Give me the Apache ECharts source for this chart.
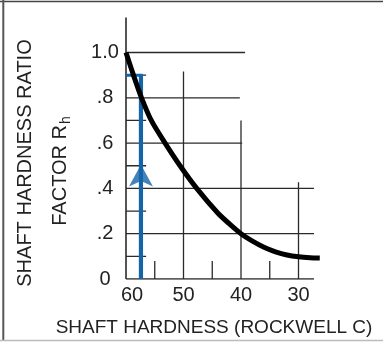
<!DOCTYPE html>
<html><head><meta charset="utf-8">
<script src="https://cdn.jsdelivr.net/npm/echarts@6/dist/echarts.min.js"></script>
<style>html,body{margin:0;padding:0;background:#fff}#c{width:383px;height:347px}</style>
</head><body><div id="c"></div>
<script>
// Curve: shaft hardness (Rockwell C) vs hardness ratio factor Rh
const hardness = [60, 58.7, 57.3, 55.6, 53.2, 50.6, 47.7, 44, 42, 40, 38, 36, 34, 32, 30, 28, 26.3];
const ratio    = [1.0, 0.9, 0.8, 0.7, 0.6, 0.5, 0.4, 0.29, 0.243, 0.2, 0.167, 0.14, 0.12, 0.106, 0.098, 0.094, 0.093];
const xTicks = [60, 50, 40, 30];
const yTicks = [0, 0.2, 0.4, 0.6, 0.8, 1.0];
const yTickLabels = ['0', '.2', '.4', '.6', '.8', '1.0'];
// Example reading (blue)
const exampleHardness = 57.4;
const exampleRatio = 0.9;
const exampleLeaderEnd = 57.1;
const arrowRatio = 0.505;
// Grid segments: horizontal [ratio, hardness end], vertical [hardness, ratio top]
const hGrid = [[1.0, 39.3], [0.8, 40.2], [0.6, 39.8], [0.4, 27.3], [0.2, 27.3], [0, 27.3]];
const vGrid = [[60, 1.154], [50, 0.916], [40, 0.70], [30, 0.427]];
const minorY = [0.1, 0.3, 0.5, 0.7, 0.9];
const minorYEnd = 56.5;
const minorX = [55, 45, 35];
const minorXTop = 0.08;

const FONT = '"Liberation Sans", Arial, sans-serif';
const INK = '#222';
const BLUE = '#1464aa';

const series = [];
function seg(data, color, width, z) {
  series.push({type: 'line', data: data, symbol: 'none', silent: true, animation: false,
    lineStyle: {color: color, width: width, cap: 'butt'}, z: z || 2});
}
hGrid.forEach(g => seg([[60, g[0]], [g[1], g[0]]], '#2a2a2a', 1.3));
vGrid.forEach(g => seg([[g[0], 0], [g[0], g[1]]], '#2a2a2a', g[0] === 60 ? 1.6 : 1.3));
minorY.forEach(v => seg([[60, v], [minorYEnd, v]], '#2a2a2a', 1.3));
minorX.forEach(v => seg([[v, 0], [v, minorXTop]], '#2a2a2a', 1.3));
// blue example
seg([[exampleHardness, 0], [exampleHardness, exampleRatio]], BLUE, 4.2, 3);
seg([[60, exampleRatio], [exampleLeaderEnd, exampleRatio]], BLUE, 3, 3);
series.push({type: 'scatter', data: [[exampleHardness, arrowRatio]], symbol: 'arrow',
  symbolSize: [18, 22], itemStyle: {color: BLUE}, silent: true, animation: false, z: 3});
// main curve
series.push({type: 'line', data: hardness.map((h, i) => [h, ratio[i]]), smooth: 0.3,
  symbol: 'none', silent: true, animation: false,
  lineStyle: {color: '#000', width: 5, cap: 'butt'}, z: 5});

const chart = echarts.init(document.getElementById('c'), null, {renderer: 'canvas'});
chart.setOption({
  backgroundColor: '#fff',
  animation: false,
  grid: {left: 126, right: 27, top: 7.2, bottom: 68},
  xAxis: {type: 'value', inverse: true, min: 20, max: 60, interval: 10,
    axisLine: {show: false}, axisTick: {show: false}, splitLine: {show: false},
    axisLabel: {fontSize: 20, color: INK, fontFamily: FONT, margin: 6,
      formatter: v => xTicks.indexOf(v) < 0 ? '' : (v === 60 ? '{p|60}' : String(v)),
      rich: {p: {padding: [0, 0, 0, 12], fontSize: 20, color: INK, fontFamily: FONT}}}},
  yAxis: {type: 'value', min: 0, max: 1.2, interval: 0.2,
    axisLine: {show: false}, axisTick: {show: false}, splitLine: {show: false},
    axisLabel: {fontSize: 20, color: INK, fontFamily: FONT, margin: 21, align: 'center',
      formatter: v => { const i = yTicks.findIndex(t => Math.abs(t - v) < 1e-6); return i < 0 ? '' : yTickLabels[i]; }}},
  series: series,
  graphic: [
    {type: 'line', shape: {x1: 0, y1: 1.5, x2: 383, y2: 1.5}, style: {stroke: '#444', lineWidth: 1.5}},
    {type: 'line', shape: {x1: 3.3, y1: 0, x2: 3.3, y2: 341}, style: {stroke: '#555', lineWidth: 2}},
    {type: 'line', shape: {x1: 0, y1: 340.5, x2: 383, y2: 340.5}, style: {stroke: '#bbb', lineWidth: 1.5}},
    {type: 'text', x: 25, y: 163, rotation: Math.PI / 2,
      style: {text: 'SHAFT HARDNESS RATIO', fontSize: 20, fontFamily: FONT, fill: INK, align: 'center', verticalAlign: 'middle'}},
    {type: 'text', x: 60, y: 171, rotation: Math.PI / 2,
      style: {text: 'FACTOR R{s|h}', fontSize: 20, fontFamily: FONT, fill: INK, align: 'center', verticalAlign: 'middle',
        rich: {s: {fontSize: 14, fontFamily: FONT, fill: INK, padding: [12, 0, 0, 1]}}}},
    {type: 'text', x: 214, y: 328,
      style: {text: 'SHAFT HARDNESS (ROCKWELL C)', fontSize: 19, fontFamily: FONT, fill: INK, align: 'center', verticalAlign: 'middle'}}
  ]
});
</script></body></html>
